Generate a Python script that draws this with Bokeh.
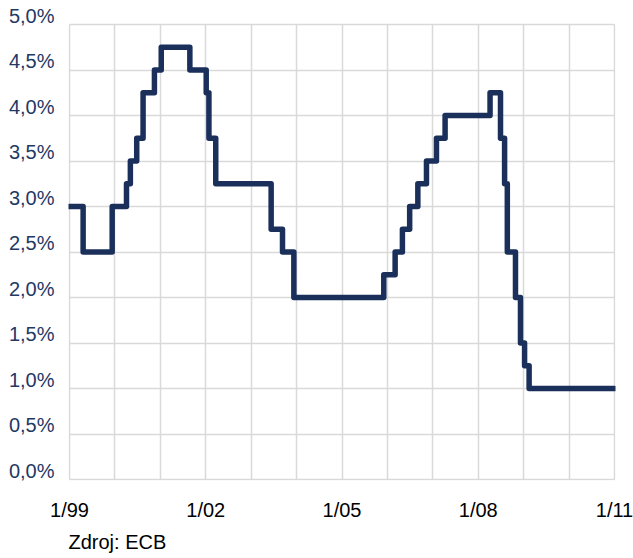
from bokeh.plotting import figure
from bokeh.models import FixedTicker, LinearAxis, Range1d, Title
from bokeh.embed import file_html
from bokeh.resources import INLINE

# ECB main refinancing rate, step series (x = time in years, y = rate in %)
change_times = [1999.00, 1999.30, 1999.94, 2000.255, 2000.34, 2000.48, 2000.62,
                2000.87, 2001.02, 2001.65, 2002.01, 2002.07, 2002.22, 2003.44,
                2003.69, 2003.94, 2005.92, 2006.17, 2006.33, 2006.49, 2006.67,
                2006.86, 2007.08, 2007.27, 2008.26, 2008.49, 2008.58, 2008.64,
                2008.82, 2008.93, 2009.02, 2009.12]
rates = [3.00, 2.50, 3.00, 3.25, 3.50, 3.75, 4.25,
         4.50, 4.75, 4.50, 4.25, 3.75, 3.25, 2.75,
         2.50, 2.00, 2.25, 2.50, 2.75, 3.00, 3.25,
         3.50, 3.75, 4.00, 4.25, 3.75, 3.25, 2.50,
         2.00, 1.50, 1.25, 1.00]
series_end = 2011.0

year_ticks = list(range(1999, 2012))
x_tick_labels = {1999: "1/99", 2002: "1/02", 2005: "1/05", 2008: "1/08", 2011: "1/11"}
y_ticks = [0.0, 0.5, 1.0, 1.5, 2.0, 2.5, 3.0, 3.5, 4.0, 4.5, 5.0]
y_tick_labels = ["0,0%", "0,5%", "1,0%", "1,5%", "2,0%", "2,5%", "3,0%",
                 "3,5%", "4,0%", "4,5%", "5,0%"]

# build the step outline from the change points
xs, ys = [], []
for i, (t, r) in enumerate(zip(change_times, rates)):
    t_next = change_times[i + 1] if i + 1 < len(change_times) else series_end
    xs += [t, t_next]
    ys += [r, r]

# scales: 45.4 px per year, 91 px per percentage point; a one-pixel pad keeps
# the border grid lines whole, and the room above 5 % holds the raised labels
PX_YEAR, PX_PCT = 45.4, 91.0
lift_px = 9
pad_x, pad_y = 1 / PX_YEAR, 1 / PX_PCT
lift = lift_px / PX_PCT

p = figure(width=633, height=558, output_backend="svg", toolbar_location=None,
           x_range=Range1d(1999 - pad_x, 2011 + pad_x),
           y_range=Range1d(-pad_y, 5 + lift),
           min_border_left=68, min_border_right=18,
           min_border_top=24 - lift_px, min_border_bottom=77)
p.outline_line_color = None

p.line(xs, ys, line_color="#1b2f5b", line_width=5.5,
       line_join="round", line_cap="round")

grid_color = "#d9d9d9"
p.xaxis.ticker = FixedTicker(ticks=year_ticks)
p.xaxis.major_label_overrides = {t: x_tick_labels.get(t, "") for t in year_ticks}
p.xaxis.axis_line_color = None
p.xaxis.major_tick_line_color = None
p.xaxis.minor_tick_line_color = None
p.xaxis.major_label_text_font = "Liberation Sans"
p.xaxis.major_label_text_font_size = "20px"
p.xaxis.major_label_text_color = "#000000"
p.xaxis.major_label_standoff = 12

p.xgrid.grid_line_color = grid_color
p.xgrid.grid_line_width = 1.5
p.xgrid.cross_bounds = (0, 5)
p.ygrid.ticker = FixedTicker(ticks=y_ticks)
p.ygrid.grid_line_color = grid_color
p.ygrid.grid_line_width = 1.5
p.ygrid.cross_bounds = (1999, 2011)

# value labels sit a little above their grid lines: they use a range that is
# shifted by the lift
p.yaxis.visible = False
p.extra_y_ranges = {"labels": Range1d(-pad_y - lift, 5)}
yax = LinearAxis(y_range_name="labels", ticker=FixedTicker(ticks=y_ticks),
                 major_label_overrides={t: l for t, l in zip(y_ticks, y_tick_labels)},
                 axis_line_color=None, major_tick_line_color=None,
                 minor_tick_line_color=None,
                 major_label_text_font="Liberation Sans",
                 major_label_text_font_size="20px",
                 major_label_text_color="#1f3864",
                 major_label_standoff=8)
p.add_layout(yax, "left")

p.add_layout(Title(text="Zdroj: ECB", align="left", text_font="Liberation Sans",
                   text_font_size="20px", text_font_style="normal",
                   text_color="#000000", standoff=11), "below")

open("out.html", "w").write(file_html(p, INLINE))
